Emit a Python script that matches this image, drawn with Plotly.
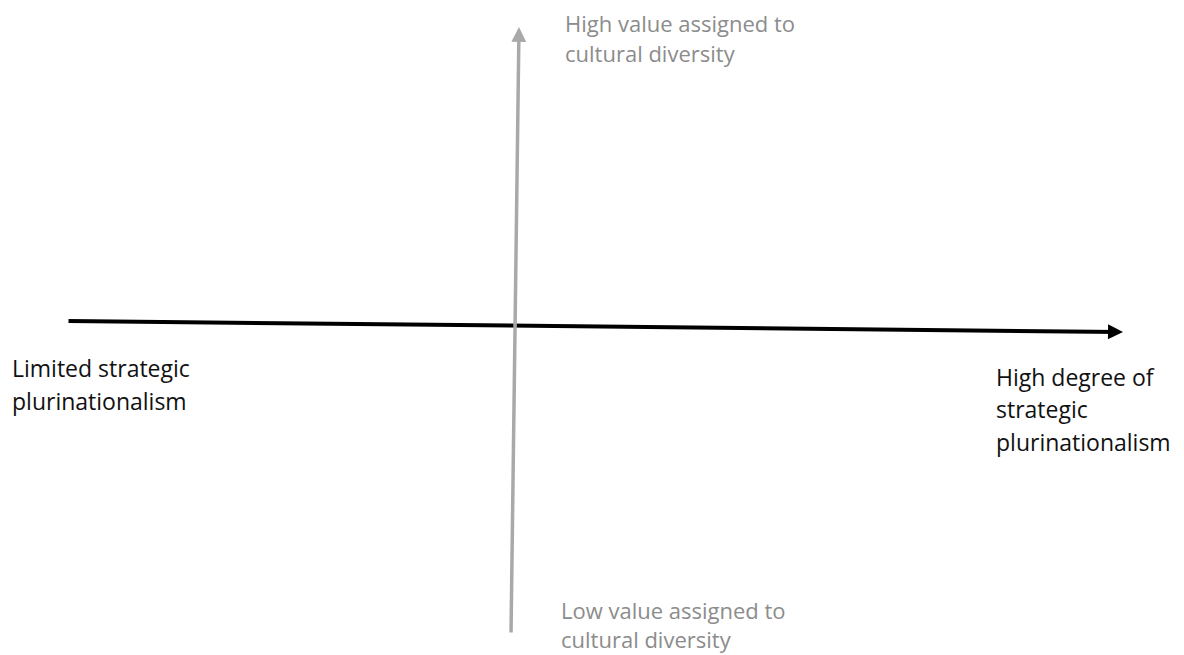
import plotly.graph_objects as go

# Canvas coordinate system (pixel-like units)
W, H = 1184, 655

# Horizontal axis arrow: tail -> tip
h_axis_tail = [67, 321]
h_axis_tip = [1123, 332]
# Vertical axis arrow: tail -> tip
v_axis_tail = [511, 634]
v_axis_tip = [519, 27]

top_lines = ["High value assigned to", "cultural diversity"]
top_x = 563
top_y = [23, 53]

bottom_lines = ["Low value assigned to", "cultural diversity"]
bottom_x = 559
bottom_y = [610, 639]

left_lines = ["Limited strategic", "plurinationalism"]
left_x = 10
left_y = [368, 401]

right_lines = ["High degree of", "strategic", "plurinationalism"]
right_x = 994
right_y = [377, 409, 442]

FONT = "Open Sans, Noto Sans, sans-serif"
GRAY_TEXT = "#8c8c8c"
GRAY_LINE = "#a9a9a9"
BLACK = "#111111"
GRAY_SIZE = 22
BLACK_SIZE = 23

fig = go.Figure()
fig.add_trace(go.Scatter(x=[0, W], y=[0, H], mode="markers",
                         marker=dict(opacity=0), hoverinfo="skip", showlegend=False))

annotations = []
annotations.append(dict(x=h_axis_tip[0], y=h_axis_tip[1], ax=h_axis_tail[0], ay=h_axis_tail[1],
                        xref="x", yref="y", axref="x", ayref="y", text="", showarrow=True,
                        arrowhead=2, arrowsize=0.75, arrowwidth=4, arrowcolor="#000000"))
annotations.append(dict(x=v_axis_tip[0], y=v_axis_tip[1], ax=v_axis_tail[0], ay=v_axis_tail[1],
                        xref="x", yref="y", axref="x", ayref="y", text="", showarrow=True,
                        arrowhead=2, arrowsize=0.85, arrowwidth=3.5, arrowcolor=GRAY_LINE))

def add_lines(lines, x, ys, color, size):
    for t, yy in zip(lines, ys):
        annotations.append(dict(x=x, y=yy, xref="x", yref="y", text=t, showarrow=False,
                                xanchor="left", yanchor="middle",
                                font=dict(family=FONT, size=size, color=color)))

add_lines(top_lines, top_x, top_y, GRAY_TEXT, GRAY_SIZE)
add_lines(bottom_lines, bottom_x, bottom_y, GRAY_TEXT, GRAY_SIZE)
add_lines(left_lines, left_x, left_y, BLACK, BLACK_SIZE)
add_lines(right_lines, right_x, right_y, BLACK, BLACK_SIZE)

fig.update_layout(
    width=W, height=H,
    margin=dict(l=0, r=0, t=0, b=0),
    paper_bgcolor="white", plot_bgcolor="white",
    xaxis=dict(range=[0, W], visible=False, fixedrange=True),
    yaxis=dict(range=[H, 0], visible=False, fixedrange=True),
    annotations=annotations,
    showlegend=False,
)

fig.write_html("out.html", config=dict(displayModeBar=False),
               post_script="document.body.style.margin='0';document.body.style.overflow='hidden';")
